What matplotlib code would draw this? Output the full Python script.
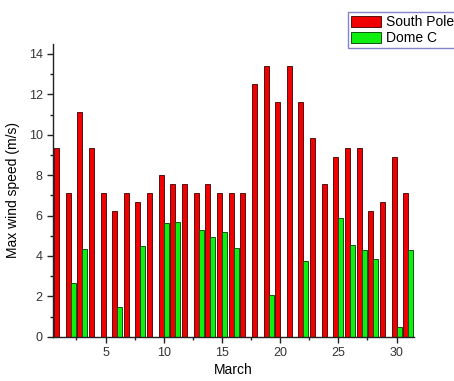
import numpy as np
import matplotlib
matplotlib.use("Agg")
import matplotlib.pyplot as plt
from matplotlib.ticker import MultipleLocator

plt.rcParams['font.family'] = ['Liberation Sans', 'DejaVu Sans']

days = list(range(1, 32))
south_pole = [9.35, 7.1, 11.15, 9.35, 7.1, 6.22, 7.1, 6.67, 7.1, 8.0,
              7.56, 7.56, 7.1, 7.56, 7.1, 7.1, 7.1, 12.53, 13.42, 11.62,
              13.42, 11.62, 9.82, 7.58, 8.92, 9.36, 9.36, 6.23, 6.68, 8.92, 7.12]
dome_c = [0, 2.65, 4.34, 0, 0, 1.46, 0, 4.47, 0, 5.62,
          5.68, 0, 5.27, 4.93, 5.17, 4.38, 0, 0, 2.05, 0,
          0, 3.75, 0, 0, 5.86, 4.52, 4.31, 3.86, 0, 0.48, 4.28]

fig = plt.figure(figsize=(4.54, 3.81), dpi=100)
ax = fig.add_axes([0.117, 0.116, 0.795, 0.769])

x = np.array(days)
w = 0.43
ax.bar(x - w/2, south_pole, width=w, color='#f00000', edgecolor='#551111',
       linewidth=0.7, label='South Pole')
ax.bar(x + w/2, dome_c, width=w, color='#10f010', edgecolor='#115511',
       linewidth=0.7, label='Dome C')

ax.set_xlim(0.5, 31.5)
ax.set_ylim(0, 14.5)
ax.xaxis.set_major_locator(MultipleLocator(5))
ax.xaxis.set_minor_locator(MultipleLocator(2.5))
ax.yaxis.set_major_locator(MultipleLocator(2))
ax.yaxis.set_minor_locator(MultipleLocator(1))
ax.tick_params(which='major', direction='out', length=4, width=1, labelsize=9,
               labelcolor='#333333', color='#222222')
ax.tick_params(which='minor', direction='out', length=2.5, width=1, color='#222222')
for s in ['top', 'right']:
    ax.spines[s].set_visible(False)
for s in ['left', 'bottom']:
    ax.spines[s].set_linewidth(1.0)
    ax.spines[s].set_color('#222222')

ax.set_xlabel('March', fontsize=10, labelpad=3)
ax.set_ylabel('Max wind speed (m/s)', fontsize=10, labelpad=6)

leg = fig.legend(loc='upper left', bbox_to_anchor=(0.766, 0.968), fontsize=10,
                 frameon=True, fancybox=False, edgecolor='#6666bb',
                 handlelength=2.2, handleheight=0.85, handletextpad=0.35,
                 borderpad=0.2, labelspacing=0.15, borderaxespad=0)
leg.get_frame().set_linewidth(1.0)

fig.savefig('out.png', dpi=100)
